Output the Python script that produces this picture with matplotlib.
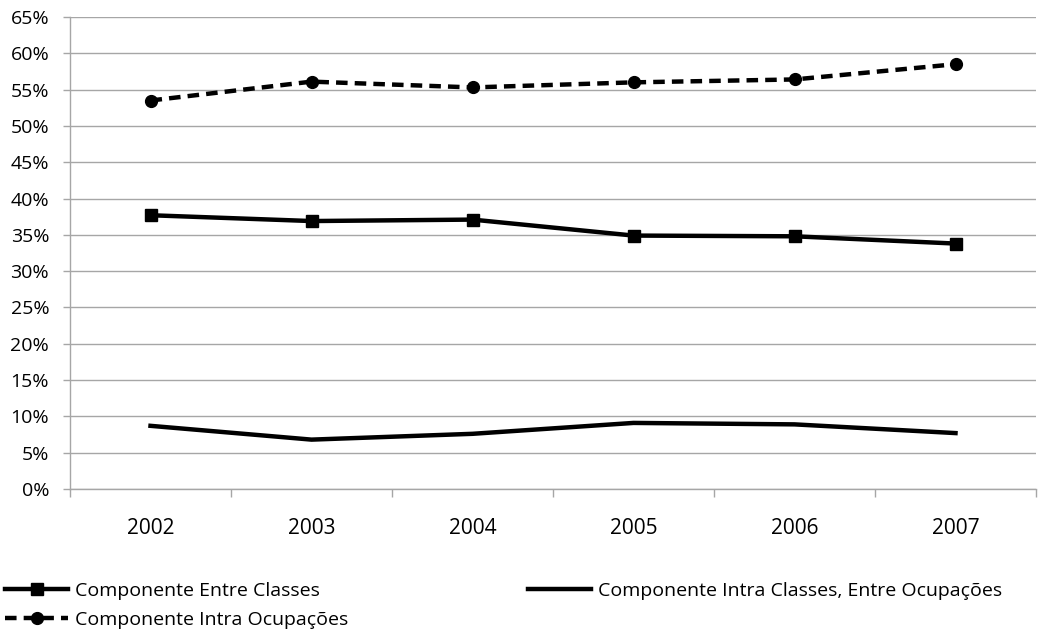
import matplotlib.pyplot as plt
from matplotlib.ticker import FuncFormatter, MultipleLocator, FixedLocator

# Decomposição da desigualdade por componente (%)
anos = ["2002", "2003", "2004", "2005", "2006", "2007"]
entre_classes = [37.7, 36.9, 37.1, 34.9, 34.8, 33.8]
intra_classes_entre_ocup = [8.7, 6.8, 7.6, 9.1, 8.9, 7.7]
intra_ocupacoes = [53.5, 56.1, 55.3, 56.0, 56.4, 58.5]

plt.rcParams['font.family'] = ['Open Sans', 'DejaVu Sans']

fig = plt.figure(figsize=(10.44, 6.32), dpi=100)
ax = fig.add_axes([70 / 1044, 1 - 489 / 632, 966 / 1044, 472 / 632])

x = list(range(len(anos)))
grey = '#a6a6a6'

l1, = ax.plot(x, entre_classes, color='black', lw=3.2, marker='s', ms=8,
              label='Componente Entre Classes')
l2, = ax.plot(x, intra_classes_entre_ocup, color='black', lw=3.2,
              label='Componente Intra Classes, Entre Ocupações')
l3, = ax.plot(x, intra_ocupacoes, color='black', lw=3.2, ls=(0, (2.6, 1.6)),
              marker='o', ms=8.5, label='Componente Intra Ocupações')

ax.set_xlim(-0.5, len(anos) - 0.5)
ax.set_ylim(0, 65)
ax.yaxis.set_major_locator(MultipleLocator(5))
ax.yaxis.set_major_formatter(FuncFormatter(lambda v, p: f"{v:.0f}%"))
ax.grid(axis='y', color=grey, lw=1)
ax.set_axisbelow(True)

# rótulos centrados nas categorias, marcas nas divisões
ax.set_xticks(x)
ax.set_xticklabels(anos)
ax.tick_params(axis='x', which='major', length=0, pad=21, labelsize=15)
ax.xaxis.set_minor_locator(FixedLocator([i - 0.5 for i in range(len(anos) + 1)]))
ax.tick_params(axis='x', which='minor', length=6, color=grey, width=1)
ax.tick_params(axis='y', length=5, color=grey, width=1, labelsize=14, pad=10)

for s in ['top', 'right']:
    ax.spines[s].set_visible(False)
for s in ['left', 'bottom']:
    ax.spines[s].set_color(grey)
    ax.spines[s].set_linewidth(1)

leg_kw = dict(loc='upper left', frameon=False, fontsize=14, handlelength=3.25,
              handletextpad=0.36, labelspacing=0.56, borderpad=0,
              borderaxespad=0)
fig.legend(handles=[l1, l3], bbox_to_anchor=(5 / 1044, 1 - 582 / 632), **leg_kw)
fig.legend(handles=[l2], bbox_to_anchor=(528 / 1044, 1 - 582 / 632), **leg_kw)

fig.savefig('out.png', dpi=100)
